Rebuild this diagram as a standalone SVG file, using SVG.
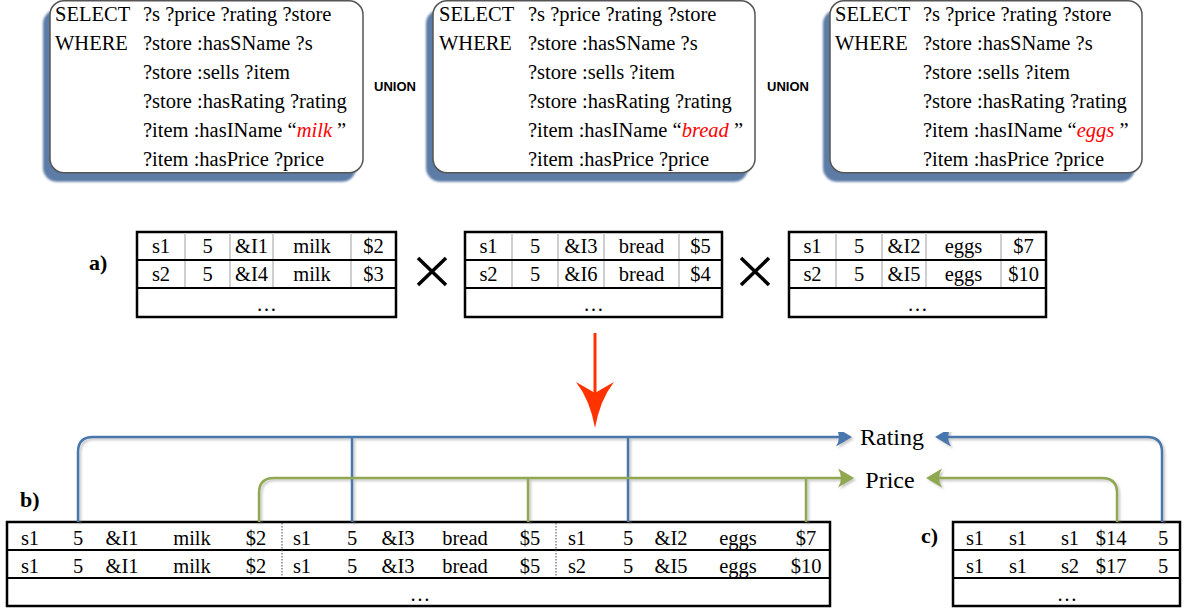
<svg xmlns="http://www.w3.org/2000/svg" width="1189" height="613" viewBox="0 0 1189 613">
  <defs>
    <style>
      .q { font-family: 'Liberation Serif', 'DejaVu Serif', serif; font-size: 20.5px; fill: #000; }
      .red { fill: #ff0000; font-style: italic; }
      .qbox { fill: #fff; stroke: #555; stroke-width: 1.5; }
      .qshadow { fill: #5b7ba6; }
      .union { font-family: 'Liberation Sans', Arial, sans-serif; font-size: 13px; font-weight: bold; text-anchor: middle; fill: #000; }
      .cell { font-family: 'Liberation Serif', 'DejaVu Serif', serif; font-size: 20.5px; text-anchor: middle; fill: #000; }
      .lbl { font-family: 'Liberation Serif', 'DejaVu Serif', serif; font-size: 22px; font-weight: bold; fill: #000; }
      .attr { font-family: 'Liberation Serif', 'DejaVu Serif', serif; font-size: 24px; text-anchor: middle; fill: #000; }
      .frame { fill: #fff; stroke: #000; stroke-width: 2.5; }
      .rowline { stroke: #000; stroke-width: 2; }
      .colsep { stroke: #cfcfcf; stroke-width: 2; }
      .dotsep { stroke: #666; stroke-width: 1.2; stroke-dasharray: 1.5 1.5; }
      .cross { stroke: #000; stroke-width: 3.5; stroke-linecap: butt; }
      .blue { fill: none; stroke: #4677ad; stroke-width: 2.5; }
      .green { fill: none; stroke: #90a850; stroke-width: 2.5; }
    </style>
    <filter id="boxShade" x="-10%" y="-10%" width="120%" height="130%">
      <feGaussianBlur stdDeviation="1"/>
    </filter>
    <filter id="lineShade" x="-5%" y="-5%" width="110%" height="110%">
      <feDropShadow dx="2" dy="2" stdDeviation="0.8" flood-color="#888" flood-opacity="0.45"/>
    </filter>
    <marker id="headBlue" markerUnits="userSpaceOnUse" markerWidth="20" markerHeight="20" refX="4" refY="10" orient="auto" overflow="visible">
      <path d="M0,0.5 Q6,10 0,19.5 L16,10 Z" fill="#4677ad"/>
    </marker>
    <marker id="headGreen" markerUnits="userSpaceOnUse" markerWidth="20" markerHeight="20" refX="4" refY="10" orient="auto" overflow="visible">
      <path d="M0,0.5 Q6,10 0,19.5 L16,10 Z" fill="#90a850"/>
    </marker>
  </defs>

  <rect width="1189" height="613" fill="#fff"/>

  <!-- SPARQL sub-queries -->
  <g id="query-milk" font-family="Liberation Serif">
    <rect class="qshadow" x="43" y="9.75" width="313" height="172" rx="14" filter="url(#boxShade)"/>
    <rect class="qbox" x="50" y="0.75" width="313" height="172" rx="14"/>
    <text class="q" x="55" y="21">SELECT</text>
    <text class="q" x="143" y="21">?s ?price ?rating ?store</text>
    <text class="q" x="55" y="50">WHERE</text>
    <text class="q" x="143" y="50">?store :hasSName ?s</text>
    <text class="q" x="143" y="79">?store :sells ?item</text>
    <text class="q" x="143" y="108">?store :hasRating ?rating</text>
    <text class="q" x="143" y="137">?item :hasIName “<tspan class="red">milk</tspan> ”</text>
    <text class="q" x="143" y="166">?item :hasPrice ?price</text>
  </g>

  <g id="union-1"><text class="union" x="395" y="91">UNION</text></g>

  <g id="query-bread">
    <rect class="qshadow" x="426" y="9.75" width="322" height="172" rx="14" filter="url(#boxShade)"/>
    <rect class="qbox" x="433" y="0.75" width="322" height="172" rx="14"/>
    <text class="q" x="439" y="21">SELECT</text>
    <text class="q" x="528" y="21">?s ?price ?rating ?store</text>
    <text class="q" x="439" y="50">WHERE</text>
    <text class="q" x="528" y="50">?store :hasSName ?s</text>
    <text class="q" x="528" y="79">?store :sells ?item</text>
    <text class="q" x="528" y="108">?store :hasRating ?rating</text>
    <text class="q" x="528" y="137">?item :hasIName “<tspan class="red">bread</tspan> ”</text>
    <text class="q" x="528" y="166">?item :hasPrice ?price</text>
  </g>

  <g id="union-2"><text class="union" x="788" y="91">UNION</text></g>

  <g id="query-eggs">
    <rect class="qshadow" x="823" y="9.75" width="312" height="172" rx="14" filter="url(#boxShade)"/>
    <rect class="qbox" x="830" y="0.75" width="312" height="172" rx="14"/>
    <text class="q" x="835" y="21">SELECT</text>
    <text class="q" x="923" y="21">?s ?price ?rating ?store</text>
    <text class="q" x="835" y="50">WHERE</text>
    <text class="q" x="923" y="50">?store :hasSName ?s</text>
    <text class="q" x="923" y="79">?store :sells ?item</text>
    <text class="q" x="923" y="108">?store :hasRating ?rating</text>
    <text class="q" x="923" y="137">?item :hasIName “<tspan class="red">eggs</tspan> ”</text>
    <text class="q" x="923" y="166">?item :hasPrice ?price</text>
  </g>

  <!-- a) partial results and their cross product -->
  <g id="label-a"><text class="lbl" x="89" y="270">a)</text></g>

  <g id="result-milk">
    <rect class="frame" x="137" y="232" width="259" height="85"/>
    <line class="colsep" x1="185" y1="233" x2="185" y2="287"/>
    <line class="colsep" x1="230" y1="233" x2="230" y2="287"/>
    <line class="colsep" x1="273" y1="233" x2="273" y2="287"/>
    <line class="colsep" x1="351" y1="233" x2="351" y2="287"/>
    <line class="rowline" x1="137" y1="260" x2="396" y2="260"/>
    <line class="rowline" x1="137" y1="288" x2="396" y2="288"/>
    <text class="cell" y="253"><tspan x="161">s1</tspan><tspan x="207.5">5</tspan><tspan x="251.5">&amp;I1</tspan><tspan x="312">milk</tspan><tspan x="373.5">$2</tspan></text>
    <text class="cell" y="281"><tspan x="161">s2</tspan><tspan x="207.5">5</tspan><tspan x="251.5">&amp;I4</tspan><tspan x="312">milk</tspan><tspan x="373.5">$3</tspan></text>
    <text class="cell" x="266.5" y="311">…</text>
  </g>

  <g id="cross-1">
    <line class="cross" x1="418" y1="258" x2="446" y2="285"/>
    <line class="cross" x1="446" y1="258" x2="418" y2="285"/>
  </g>

  <g id="result-bread">
    <rect class="frame" x="465" y="232" width="257" height="85"/>
    <line class="colsep" x1="512" y1="233" x2="512" y2="287"/>
    <line class="colsep" x1="558" y1="233" x2="558" y2="287"/>
    <line class="colsep" x1="604" y1="233" x2="604" y2="287"/>
    <line class="colsep" x1="679" y1="233" x2="679" y2="287"/>
    <line class="rowline" x1="465" y1="260" x2="722" y2="260"/>
    <line class="rowline" x1="465" y1="288" x2="722" y2="288"/>
    <text class="cell" y="253"><tspan x="488.5">s1</tspan><tspan x="535">5</tspan><tspan x="581">&amp;I3</tspan><tspan x="641.5">bread</tspan><tspan x="700.5">$5</tspan></text>
    <text class="cell" y="281"><tspan x="488.5">s2</tspan><tspan x="535">5</tspan><tspan x="581">&amp;I6</tspan><tspan x="641.5">bread</tspan><tspan x="700.5">$4</tspan></text>
    <text class="cell" x="593.5" y="311">…</text>
  </g>

  <g id="cross-2">
    <line class="cross" x1="741" y1="258" x2="769" y2="285"/>
    <line class="cross" x1="769" y1="258" x2="741" y2="285"/>
  </g>

  <g id="result-eggs">
    <rect class="frame" x="789" y="232" width="257" height="85"/>
    <line class="colsep" x1="836" y1="233" x2="836" y2="287"/>
    <line class="colsep" x1="882" y1="233" x2="882" y2="287"/>
    <line class="colsep" x1="926" y1="233" x2="926" y2="287"/>
    <line class="colsep" x1="1001" y1="233" x2="1001" y2="287"/>
    <line class="rowline" x1="789" y1="260" x2="1046" y2="260"/>
    <line class="rowline" x1="789" y1="288" x2="1046" y2="288"/>
    <text class="cell" y="253"><tspan x="812.5">s1</tspan><tspan x="859">5</tspan><tspan x="904">&amp;I2</tspan><tspan x="963.5">eggs</tspan><tspan x="1023.5">$7</tspan></text>
    <text class="cell" y="281"><tspan x="812.5">s2</tspan><tspan x="859">5</tspan><tspan x="904">&amp;I5</tspan><tspan x="963.5">eggs</tspan><tspan x="1023.5">$10</tspan></text>
    <text class="cell" x="917.5" y="311">…</text>
  </g>

  <!-- transformation arrow -->
  <g id="transform-arrow">
    <line x1="595" y1="333" x2="595" y2="396" stroke="#ff3300" stroke-width="3"/>
    <path d="M576,382 Q590,390 595,393 Q600,390 614,382 Q600,400 595,428 Q590,400 576,382 Z" fill="#ff3300"/>
  </g>

  <!-- b) joined tuples -->
  <g id="label-b"><text class="lbl" x="20" y="507">b)</text></g>

  <g id="joined-table">
    <rect class="frame" x="7" y="522" width="823" height="84"/>
    <line class="rowline" x1="7" y1="550" x2="830" y2="550"/>
    <line class="rowline" x1="7" y1="578" x2="830" y2="578"/>
    <line class="dotsep" x1="282" y1="523" x2="282" y2="577"/>
    <line class="dotsep" x1="556" y1="523" x2="556" y2="577"/>
    <text class="cell" y="545"><tspan x="30">s1</tspan><tspan x="78">5</tspan><tspan x="122">&amp;I1</tspan><tspan x="192">milk</tspan><tspan x="256">$2</tspan><tspan x="302">s1</tspan><tspan x="352">5</tspan><tspan x="398">&amp;I3</tspan><tspan x="465">bread</tspan><tspan x="530">$5</tspan><tspan x="577">s1</tspan><tspan x="628">5</tspan><tspan x="671">&amp;I2</tspan><tspan x="738">eggs</tspan><tspan x="806">$7</tspan></text>
    <text class="cell" y="573"><tspan x="30">s1</tspan><tspan x="78">5</tspan><tspan x="122">&amp;I1</tspan><tspan x="192">milk</tspan><tspan x="256">$2</tspan><tspan x="302">s1</tspan><tspan x="352">5</tspan><tspan x="398">&amp;I3</tspan><tspan x="465">bread</tspan><tspan x="530">$5</tspan><tspan x="577">s2</tspan><tspan x="628">5</tspan><tspan x="671">&amp;I5</tspan><tspan x="738">eggs</tspan><tspan x="806">$10</tspan></text>
    <text class="cell" x="420" y="601">…</text>
  </g>

  <!-- c) aggregated result -->
  <g id="label-c"><text class="lbl" x="921" y="543">c)</text></g>

  <g id="aggregate-table">
    <rect class="frame" x="953" y="522" width="227" height="84"/>
    <line class="rowline" x1="953" y1="550" x2="1180" y2="550"/>
    <line class="rowline" x1="953" y1="578" x2="1180" y2="578"/>
    <text class="cell" y="545"><tspan x="975">s1</tspan><tspan x="1018">s1</tspan><tspan x="1070">s1</tspan><tspan x="1111">$14</tspan><tspan x="1163">5</tspan></text>
    <text class="cell" y="573"><tspan x="975">s1</tspan><tspan x="1018">s1</tspan><tspan x="1070">s2</tspan><tspan x="1111">$17</tspan><tspan x="1163">5</tspan></text>
    <text class="cell" x="1067" y="601">…</text>
  </g>

  <!-- attribute names -->
  <g id="attr-rating"><text class="attr" x="892" y="445">Rating</text></g>
  <g id="attr-price"><text class="attr" x="890" y="488">Price</text></g>

  <!-- connectors: rating columns (blue) and price columns (green) -->
  <g id="connectors" filter="url(#lineShade)">
    <path class="blue" d="M78,522 V452 Q78,437 93,437 H840" marker-end="url(#headBlue)"/>
    <path class="blue" d="M352,522 V437"/>
    <path class="blue" d="M628,522 V437"/>
    <path class="blue" d="M1162,522 V452 Q1162,437 1147,437 H947" marker-end="url(#headBlue)"/>
    <path class="green" d="M259,522 V493 Q259,478 274,478 H842" marker-end="url(#headGreen)"/>
    <path class="green" d="M528,522 V478"/>
    <path class="green" d="M806,522 V478"/>
    <path class="green" d="M1117,522 V493 Q1117,478 1102,478 H938" marker-end="url(#headGreen)"/>
  </g>
</svg>
